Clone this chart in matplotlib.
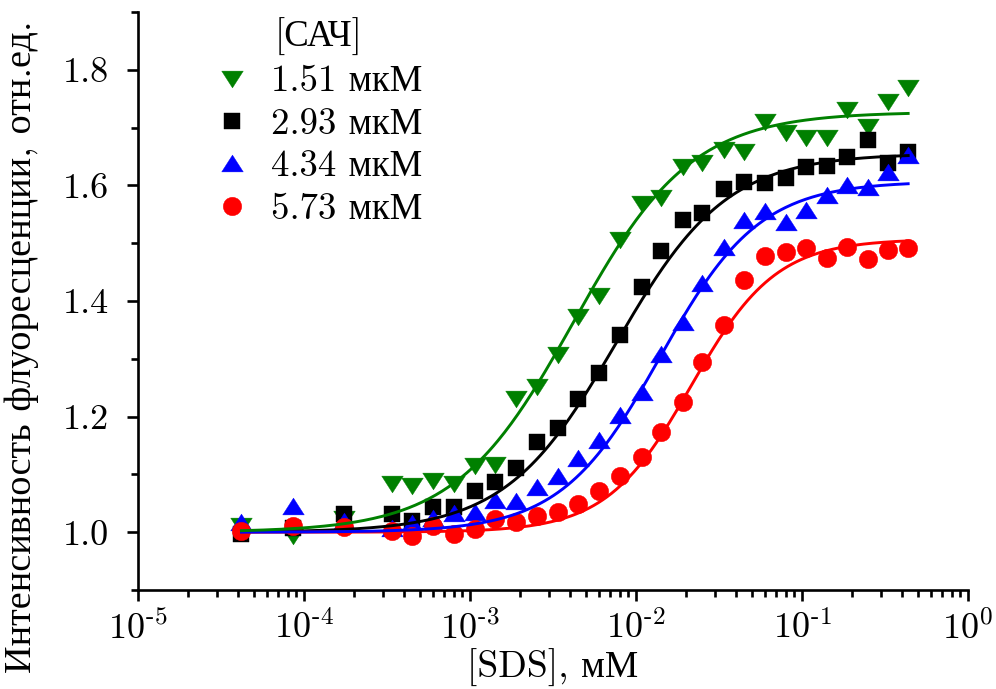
import numpy as np
import matplotlib
matplotlib.use("Agg")
import matplotlib.pyplot as plt
from matplotlib.path import Path
from matplotlib.lines import Line2D
from matplotlib.ticker import MultipleLocator, LogLocator, NullFormatter, FormatStrFormatter


plt.rcParams['font.family'] = ['cmr10', 'Liberation Serif']
plt.rcParams['mathtext.fontset'] = 'cm'
plt.rcParams['axes.unicode_minus'] = False
plt.rcParams['axes.formatter.use_mathtext'] = True

# Концентрации SDS, мМ
sds = [4.2e-5, 8.6e-5, 1.73e-4, 3.4e-4, 4.5e-4, 6.0e-4, 8.0e-4, 1.07e-3,
       1.41e-3, 1.88e-3, 2.55e-3, 3.37e-3, 4.5e-3, 6.0e-3, 8.05e-3, 1.08e-2,
       1.42e-2, 1.93e-2, 2.51e-2, 3.4e-2, 4.49e-2, 6.0e-2, 8.0e-2, 0.106,
       0.142, 0.187, 0.25, 0.33, 0.436]

labels = ['1.51 мкМ', '2.93 мкМ', '4.34 мкМ', '5.73 мкМ']
colors = ['#008000', '#000000', '#0000ff', '#ff0000']

# Интенсивность флуоресценции для каждой концентрации САЧ
y_151 = [1.010, 0.993, 1.022, 1.083, 1.080, 1.088, 1.083, 1.114, 1.117, 1.230,
         1.251, 1.306, 1.373, 1.408, 1.506, 1.567, 1.579, 1.632, 1.639, 1.662,
         1.657, 1.710, 1.691, 1.682, 1.682, 1.731, 1.701, 1.745, 1.769]
y_293 = [0.997, 1.008, 1.031, 1.031, 1.019, 1.043, 1.043, 1.071, 1.086, 1.111,
         1.156, 1.181, 1.230, 1.276, 1.342, 1.425, 1.486, 1.541, 1.553, 1.593,
         1.606, 1.605, 1.613, 1.632, 1.634, 1.650, 1.679, 1.639, 1.658]
y_434 = [1.017, 1.045, 1.019, 1.007, 1.016, 1.024, 1.033, 1.035, 1.055, 1.054,
         1.079, 1.097, 1.128, 1.159, 1.202, 1.242, 1.309, 1.363, 1.432, 1.494,
         1.541, 1.555, 1.537, 1.558, 1.584, 1.601, 1.598, 1.624, 1.653]
y_573 = [1.002, 1.010, 1.009, 1.002, 0.993, 1.010, 0.997, 1.005, 1.022, 1.017,
         1.028, 1.035, 1.048, 1.071, 1.097, 1.130, 1.173, 1.225, 1.295, 1.359,
         1.437, 1.477, 1.484, 1.492, 1.475, 1.494, 1.472, 1.489, 1.492]

# Параметры логистической аппроксимации: A1, A2, x0, p
fit_151 = (1.0, 1.727, 4.2e-3, 1.22)
fit_293 = (1.0, 1.655, 7.6e-3, 1.30)
fit_434 = (1.0, 1.607, 1.4e-2, 1.45)
fit_573 = (1.0, 1.507, 2.15e-2, 1.70)


def logistic(x, a1, a2, x0, p):
    return a2 + (a1 - a2) / (1 + (x / x0) ** p)


tri_down = Path([(-1, 0.78), (1, 0.78), (0, -0.78), (-1, 0.78)], closed=True)
tri_up = Path([(-1, -0.78), (1, -0.78), (0, 0.78), (-1, -0.78)], closed=True)
markers = [tri_down, 's', tri_up, 'o']
msizes = [15.5, 11.3, 15.5, 13.3]

series = [y_151, y_293, y_434, y_573]
fits = [fit_151, fit_293, fit_434, fit_573]

fig = plt.figure(figsize=(9.96, 6.89), dpi=100)
ax = fig.add_axes([138 / 996, (689 - 590) / 689, 830 / 996, 578 / 689])

xs = np.logspace(np.log10(sds[0]), np.log10(sds[-1]), 300)
# порядок отрисовки: чёрный, красный, синий, зелёный
for i in [1, 3, 2, 0]:
    ax.plot(sds, series[i], linestyle='none', marker=markers[i], ms=msizes[i],
            color=colors[i], mec=colors[i], mew=0.3, zorder=2 + i * 0.1)
for i in [1, 3, 2, 0]:
    ax.plot(xs, logistic(xs, *fits[i]), '-', color=colors[i], lw=2.1, zorder=4)

ax.set_xscale('log')
ax.set_xlim(1e-5, 1)
ax.set_ylim(0.9, 1.9)

for s in ['top', 'right']:
    ax.spines[s].set_visible(False)
for s in ['left', 'bottom']:
    ax.spines[s].set_linewidth(1.9)

ax.yaxis.set_major_locator(MultipleLocator(0.2))
ax.yaxis.set_minor_locator(MultipleLocator(0.1))
ax.yaxis.set_major_formatter(FormatStrFormatter('%.1f'))
ax.xaxis.set_minor_locator(LogLocator(base=10, subs=np.arange(2, 10), numticks=10))
ax.xaxis.set_minor_formatter(NullFormatter())
ax.set_xticks([1e-5, 1e-4, 1e-3, 1e-2, 1e-1, 1])
ax.set_xticklabels([r'$10^{\text{-}5}$', r'$10^{\text{-}4}$', r'$10^{\text{-}3}$',
                    r'$10^{\text{-}2}$', r'$10^{\text{-}1}$', r'$10^{0}$'])

ax.tick_params(which='major', direction='out', length=8, width=1.9, labelsize=26)
ax.tick_params(axis='y', which='major', pad=13)
ax.tick_params(axis='x', which='major', pad=7)
ax.tick_params(which='minor', direction='out', length=5, width=1.9)

fig.text(22 / 996, 1 - 347 / 689, 'Интенсивность флуоресценции, отн.ед.',
         rotation=90, ha='center', va='center', fontsize=27.5)
fig.text(553 / 996, 1 - 668 / 689, '[SDS], мМ', ha='center', va='center', fontsize=27)

handles = [Line2D([], [], linestyle='none', marker=markers[i], ms=msizes[i],
                  color=colors[i], mec=colors[i], mew=0.3) for i in range(4)]
ax.legend(handles, labels, title='[САЧ]', loc='upper left',
          bbox_to_anchor=(215 / 996, 1 - 18 / 689), bbox_transform=fig.transFigure,
          frameon=False, fontsize=26.5, title_fontsize=26.5, handlelength=0.9,
          handletextpad=0.62, labelspacing=0.25, borderpad=0, borderaxespad=0)

fig.savefig('out.png', dpi=100)
